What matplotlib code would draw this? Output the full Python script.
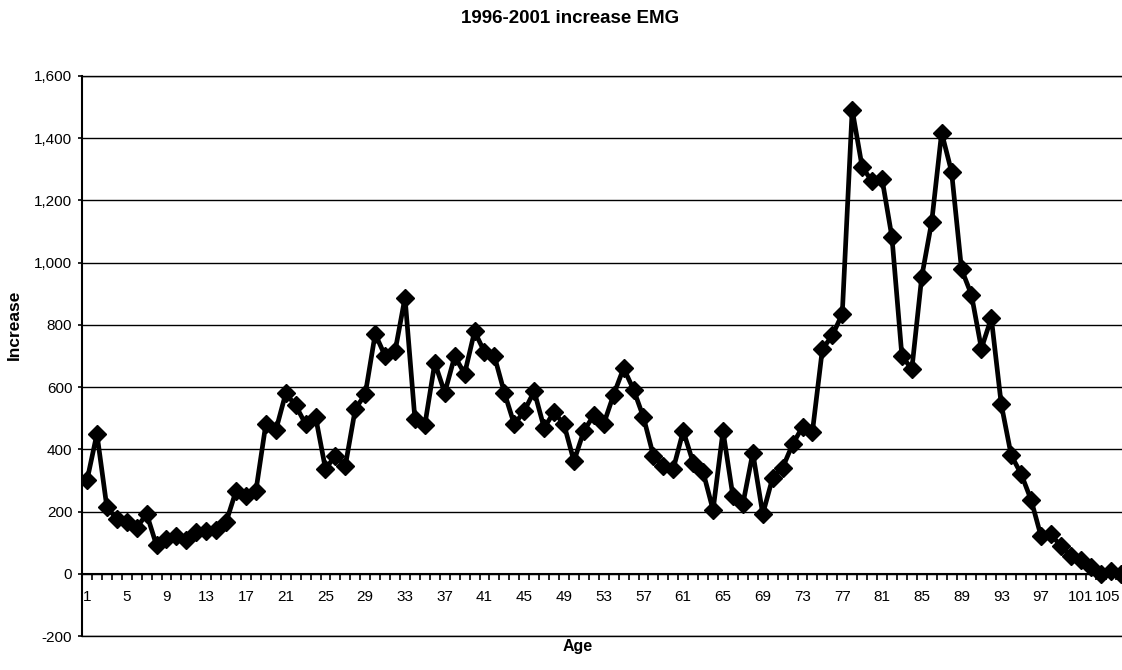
import numpy as np
import matplotlib
matplotlib.use("Agg")
import matplotlib.pyplot as plt
from matplotlib.ticker import FuncFormatter, FixedLocator

plt.rcParams["font.family"] = ["Liberation Sans", "DejaVu Sans"]

# ages 1..105 and the increase
ages = list(range(1, 106))
increase = [
    300, 450, 214, 177, 166, 147, 193, 91, 113, 123,
    109, 134, 136, 141, 166, 267, 251, 267, 482, 461,
    580, 541, 481, 505, 337, 380, 348, 530, 577, 771,
    700, 715, 888, 497, 479, 678, 582, 699, 643, 779,
    713, 699, 582, 480, 523, 587, 469, 520, 480, 362,
    459, 510, 482, 576, 661, 592, 503, 379, 347, 338,
    459, 357, 327, 205, 459, 249, 224, 389, 192, 309,
    341, 416, 472, 457, 722, 766, 835, 1492, 1308, 1261,
    1270, 1082, 701, 657, 955, 1131, 1418, 1292, 979, 897,
    724, 822, 545, 381, 321, 238, 121, 127, 89, 56,
    44, 22, 0, 8, 0,
]
x_labels = ages[::4]
y_ticks = list(range(-200, 1601, 200))

fig = plt.figure(figsize=(11.22, 6.70), dpi=100)
ax = fig.add_axes([0.0731, 0.0507, 0.93, 0.8359])

ax.plot(ages, increase, color="black", lw=3.4, marker="D", ms=9,
        markerfacecolor="black", markeredgecolor="black", zorder=3)

ax.set_xlim(0.5, 105.5)
ax.set_ylim(-200, 1600)

ax.set_yticks(y_ticks)
ax.yaxis.set_major_formatter(FuncFormatter(lambda v, p: f"{int(v):,}"))
ax.grid(axis="y", color="black", lw=1.0)
ax.axhline(-200, color="black", lw=1.0, clip_on=False, zorder=0)
ax.axhline(1600, color="black", lw=1.0, clip_on=False, zorder=0)
ax.set_axisbelow(True)

# category axis at y = 0, labels every 4th age, ticks between categories
ax.spines["bottom"].set_position(("data", 0))
ax.spines["bottom"].set_linewidth(1.5)
ax.spines["top"].set_visible(False)
ax.spines["right"].set_visible(False)
ax.spines["left"].set_linewidth(1.5)
ax.set_xticks(x_labels)
ax.set_xticklabels([str(a) for a in x_labels])
ax.xaxis.set_minor_locator(FixedLocator([a + 0.5 for a in ages]))
ax.tick_params(axis="x", which="major", length=0, pad=12, labelsize=11)
ax.tick_params(axis="x", which="minor", direction="out", length=4.5, width=1.2)
ax.tick_params(axis="y", direction="out", length=3, width=1.2, labelsize=11, pad=4)
# last label sits at the right edge, keep it inside
ax.get_xticklabels()[-1].set_horizontalalignment("right")

fig.text(0.508, 0.972, "1996-2001 increase EMG", ha="center", va="center",
         fontsize=13.5, fontweight="bold")
fig.text(0.0125, 0.515, "Increase", ha="center", va="center", rotation=90,
         fontsize=12.5, fontweight="bold")
fig.text(0.515, 0.035, "Age", ha="center", va="center",
         fontsize=11.5, fontweight="bold")

fig.savefig("out.png", dpi=100)
